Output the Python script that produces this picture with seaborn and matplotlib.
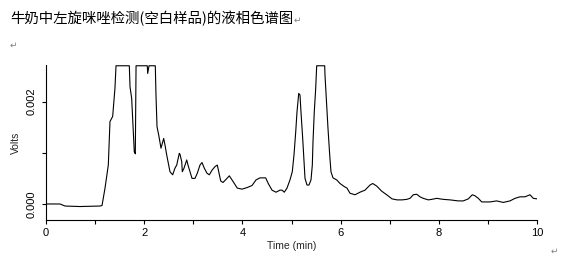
import numpy as np
import pandas as pd
import matplotlib
matplotlib.use("Agg")
import matplotlib.pyplot as plt
import seaborn as sns

# Retention time (min) and detector signal (Volts)
time_min = [0.000, 0.285, 0.387, 0.692, 1.100, 1.141, 1.202, 1.269, 1.303, 1.358,
            1.405, 1.426, 1.697, 1.711, 1.745, 1.772, 1.798, 1.819, 1.834, 2.063,
            2.071, 2.098, 2.226, 2.240, 2.261, 2.295, 2.342, 2.397, 2.424, 2.458,
            2.525, 2.580, 2.627, 2.662, 2.715, 2.729, 2.764, 2.776, 2.811, 2.866,
            2.892, 2.933, 2.974, 3.035, 3.081, 3.136, 3.177, 3.224, 3.279, 3.326,
            3.381, 3.442, 3.489, 3.517, 3.558, 3.605, 3.686, 3.733, 3.809, 3.896,
            3.992, 4.094, 4.196, 4.277, 4.358, 4.474, 4.527, 4.603, 4.684, 4.766,
            4.807, 4.853, 4.908, 4.969, 5.016, 5.051, 5.086, 5.112, 5.147, 5.173,
            5.193, 5.228, 5.255, 5.275, 5.316, 5.356, 5.397, 5.424, 5.438, 5.464,
            5.493, 5.513, 5.676, 5.682, 5.709, 5.743, 5.778, 5.804, 5.845, 5.921,
            5.988, 6.075, 6.130, 6.191, 6.293, 6.395, 6.497, 6.599, 6.654, 6.735,
            6.837, 6.939, 7.047, 7.149, 7.251, 7.346, 7.413, 7.481, 7.550, 7.617,
            7.684, 7.786, 7.855, 7.957, 8.092, 8.228, 8.397, 8.499, 8.601, 8.682,
            8.737, 8.805, 8.874, 9.043, 9.179, 9.314, 9.450, 9.552, 9.654, 9.756,
            9.857, 9.925, 10.000]
signal_mV = [0.00, 0.00, -0.04, -0.05, -0.04, -0.03, 0.31, 0.76, 1.61, 1.71,
             2.27, 2.70, 2.70, 2.29, 2.06, 1.54, 1.02, 0.98, 2.70, 2.70,
             2.55, 2.70, 2.70, 2.13, 1.51, 1.35, 1.09, 1.28, 1.15, 0.96,
             0.63, 0.57, 0.70, 0.76, 0.99, 0.97, 0.83, 0.63, 0.70, 0.86,
             0.76, 0.63, 0.50, 0.50, 0.60, 0.76, 0.81, 0.70, 0.60, 0.57,
             0.66, 0.73, 0.76, 0.63, 0.45, 0.42, 0.50, 0.55, 0.44, 0.31,
             0.29, 0.32, 0.36, 0.47, 0.51, 0.51, 0.40, 0.27, 0.23, 0.27,
             0.27, 0.23, 0.31, 0.47, 0.63, 0.96, 1.41, 1.80, 2.16, 2.13,
             1.80, 1.28, 0.83, 0.50, 0.37, 0.37, 0.47, 0.76, 1.22, 1.80,
             2.26, 2.70, 2.70, 2.52, 2.06, 1.48, 0.96, 0.63, 0.51, 0.47,
             0.40, 0.34, 0.31, 0.21, 0.18, 0.23, 0.27, 0.37, 0.40, 0.35,
             0.25, 0.18, 0.10, 0.08, 0.08, 0.09, 0.11, 0.18, 0.19, 0.14,
             0.11, 0.08, 0.09, 0.11, 0.09, 0.08, 0.06, 0.06, 0.10, 0.18,
             0.16, 0.11, 0.04, 0.04, 0.06, 0.03, 0.06, 0.11, 0.14, 0.14,
             0.18, 0.11, 0.10]

x_major = [0, 2, 4, 6, 8, 10]
x_minor = [1, 3, 5, 7, 9]
y_ticks = [0.000, 0.001, 0.002]
y_ticklabels = ["0.000", "", "0.002"]

title_text = "牛奶中左旋咪唑检测(空白样品)的液相色谱图"
x_label = "Time (min)"
y_label = "Volts"

df = pd.DataFrame({"t": time_min, "v": np.array(signal_mV) * 0.001})

sns.set_style("ticks")
plt.rcParams["font.family"] = ["Liberation Sans", "DejaVu Sans"]

fig = plt.figure(figsize=(5.77, 2.67), dpi=100)
ax = fig.add_axes([46 / 577, 47 / 267, 491 / 577, 155 / 267])
sns.lineplot(data=df, x="t", y="v", ax=ax, color="black", linewidth=0.8, sort=False)

ax.set_xlim(0, 10)
ax.set_ylim(-0.000313, 0.002715)
ax.set_xticks(x_major)
ax.set_xticks(x_minor, minor=True)
ax.set_xticklabels([str(v) for v in x_major])
ax.set_yticks(y_ticks)
ax.set_yticklabels(y_ticklabels, rotation=90, va="center")
ax.tick_params(axis="both", which="both", direction="out", length=3, width=0.8,
               labelsize=8, color="black", labelcolor="black")
ax.tick_params(axis="x", pad=3)
ax.tick_params(axis="y", pad=4)
ax.set_xlabel(x_label, fontsize=7.5, loc="center", labelpad=2)
ax.set_ylabel(y_label, fontsize=7.5, labelpad=4)
sns.despine(ax=ax)
for s in ["left", "bottom"]:
    ax.spines[s].set_linewidth(0.8)
    ax.spines[s].set_color("black")

fig.text(10 / 577, 1 - 18 / 267, title_text, fontsize=10.4, va="center", ha="left",
         family=["Noto Sans CJK SC", "DejaVu Sans"], color="black")
fig.text(294 / 577, 1 - 20 / 267, "↵", fontsize=6.5, va="center", ha="left",
         family=["DejaVu Sans"], color="#808080")
fig.text(10 / 577, 1 - 45 / 267, "↵", fontsize=6.5, va="center", ha="left",
         family=["DejaVu Sans"], color="#808080")
fig.text(551 / 577, 1 - 251 / 267, "↵", fontsize=6.5, va="center", ha="left",
         family=["DejaVu Sans"], color="#808080")

fig.savefig("out.png", dpi=100)
